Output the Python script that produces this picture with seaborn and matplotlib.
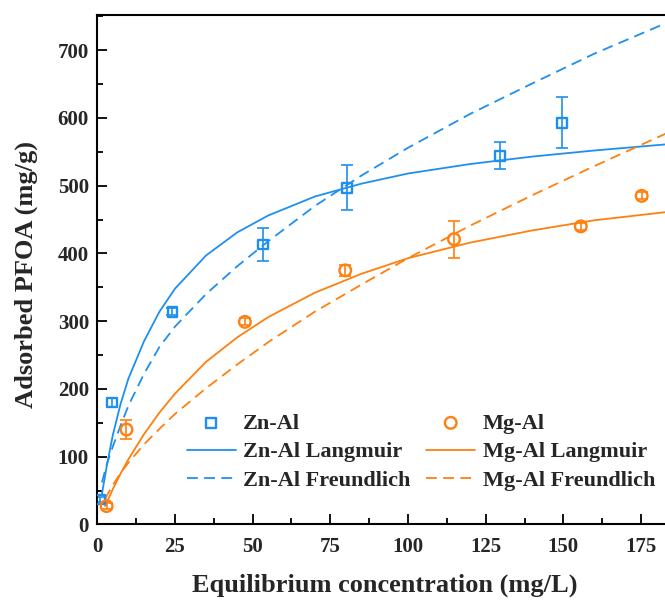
import matplotlib
matplotlib.use("Agg")
import matplotlib.pyplot as plt
from matplotlib.ticker import MultipleLocator
import numpy as np
import seaborn as sns

# measured points (mg/L, mg/g) with error bars
zn_c = [1.0, 4.8, 24.2, 53.4, 80.3, 129.7, 149.6]
zn_q = [37, 180, 314, 413, 497, 544, 593]
zn_err = [4, 6, 5, 24, 33, 20, 38]

mg_c = [3.0, 9.4, 47.5, 79.8, 114.8, 155.6, 175.2]
mg_q = [27, 140, 299, 375, 421, 440, 485]
mg_err = [4, 14, 5, 8, 27, 5, 5]

# fitted curves
zn_fit_c = [1.5, 3, 5, 7.5, 10, 15, 20, 25, 35, 45, 55, 70, 85, 100, 120, 140, 160, 183]
zn_lang = [45, 85, 132, 178, 215, 270, 314, 348, 397, 431, 456, 484, 503, 518, 532, 543, 552, 561]
zn_freu = [62, 88, 115, 146, 175, 222, 262, 292, 340, 381, 418, 470, 515, 556, 606, 651, 695, 740]

mg_fit_c = [2.5, 3, 5, 7.5, 10, 15, 20, 25, 35, 45, 55, 70, 85, 100, 120, 140, 160, 183]
mg_lang = [27, 32, 52, 75, 96, 133, 165, 193, 240, 276, 306, 342, 370, 393, 416, 434, 449, 461]
mg_freu = [37, 42, 58, 76, 91, 118, 141, 163, 201, 236, 269, 314, 354, 393, 441, 486, 529, 577]

blue = "#1f8fef"
orange = "#ff7f0f"

sns.set_theme(style="ticks")
plt.rcParams["font.family"] = ["Liberation Serif", "DejaVu Serif"]
plt.rcParams["font.weight"] = "bold"

fig = plt.figure(figsize=(6.65, 6.0), dpi=100)
ax = fig.add_axes([0.1463, 0.126, 0.8537, 0.849])

# error bars first, then open markers
ax.errorbar(zn_c, zn_q, yerr=zn_err, fmt="none", ecolor=blue, elinewidth=1.2, capsize=4, capthick=1.2)
ax.errorbar(mg_c, mg_q, yerr=mg_err, fmt="none", ecolor=orange, elinewidth=1.2, capsize=4, capthick=1.2)

sns.scatterplot(x=zn_c, y=zn_q, ax=ax, marker="s", s=48, facecolor="none", edgecolor=blue,
                linewidth=1.7, label="Zn-Al", zorder=3)
sns.lineplot(x=zn_fit_c, y=zn_lang, ax=ax, color=blue, linewidth=1.3, sort=False,
             estimator=None, label="Zn-Al Langmuir")
sns.lineplot(x=zn_fit_c, y=zn_freu, ax=ax, color=blue, linewidth=1.3, sort=False,
             estimator=None, label="Zn-Al Freundlich", dashes=False, linestyle=(0, (6, 3.5)))

sns.scatterplot(x=mg_c, y=mg_q, ax=ax, marker="o", s=70, facecolor="none", edgecolor=orange,
                linewidth=1.7, label="Mg-Al", zorder=3)
sns.lineplot(x=mg_fit_c, y=mg_lang, ax=ax, color=orange, linewidth=1.3, sort=False,
             estimator=None, label="Mg-Al Langmuir")
sns.lineplot(x=mg_fit_c, y=mg_freu, ax=ax, color=orange, linewidth=1.3, sort=False,
             estimator=None, label="Mg-Al Freundlich", dashes=False, linestyle=(0, (6, 3.5)))

ax.set_xlim(0, 182.7)
ax.set_ylim(0, 752)
ax.xaxis.set_major_locator(MultipleLocator(25))
ax.xaxis.set_minor_locator(MultipleLocator(12.5))
ax.yaxis.set_major_locator(MultipleLocator(100))
ax.yaxis.set_minor_locator(MultipleLocator(50))

ax.tick_params(which="both", direction="in", color="black", width=1.3, labelsize=15)
ax.tick_params(which="major", length=7)
ax.tick_params(which="minor", length=4)
ax.tick_params(axis="x", pad=9)
ax.tick_params(axis="y", pad=6)
for lab in ax.get_xticklabels() + ax.get_yticklabels():
    lab.set_fontweight("bold")

for side in ["left", "bottom", "top"]:
    ax.spines[side].set_linewidth(1.5)
    ax.spines[side].set_color("black")
ax.spines["right"].set_visible(False)

ax.set_xlabel("Equilibrium concentration (mg/L)", fontsize=19, fontweight="bold")
ax.set_ylabel("Adsorbed PFOA (mg/g)", fontsize=19, fontweight="bold")
ax.xaxis.set_label_coords(0.507, -0.097)
ax.yaxis.set_label_coords(-0.104, 0.49)

handles, labels = ax.get_legend_handles_labels()
order = ["Zn-Al", "Zn-Al Langmuir", "Zn-Al Freundlich", "Mg-Al", "Mg-Al Langmuir", "Mg-Al Freundlich"]
hmap = dict(zip(labels, handles))
leg = ax.legend([hmap[k] for k in order], order, ncol=2, frameon=False,
                loc="upper left", bbox_to_anchor=(0.264, 0.33), bbox_transform=fig.transFigure,
                borderpad=0, handlelength=2.2, handletextpad=0.35, columnspacing=0.7,
                labelspacing=0.37, prop={"size": 16, "weight": "bold"})

fig.savefig("out.png", dpi=100)
